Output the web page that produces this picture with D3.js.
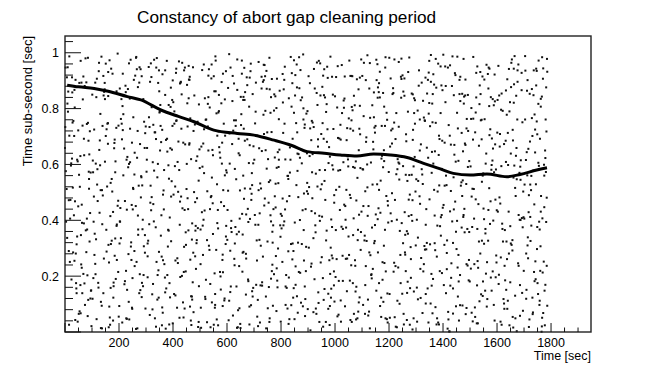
<!DOCTYPE html>
<html>
<head>
<meta charset="utf-8">
<script src="https://cdn.jsdelivr.net/npm/d3@7"></script>
<style>
  body { margin: 0; background: #fff; }
  svg { display: block; font-family: "Liberation Sans", Arial, Helvetica, sans-serif; }
</style>
</head>
<body>
<svg id="chart" width="659" height="370"></svg>
<script>
// scatter of sub-second time vs time, ROOT-like look

const title = "Constancy of abort gap cleaning period";
const xTitle = "Time [sec]";
const yTitle = "Time sub-second [sec]";

const xTicks = [200, 400, 600, 800, 1000, 1200, 1400, 1600, 1800];
const yTicks = [0.2, 0.4, 0.6, 0.8, 1];

// dense band of points
const trendTime  = [8, 50, 108, 160, 231, 281, 355, 420, 478, 551, 638, 700, 774, 840, 897, 960, 1020, 1081, 1143, 1205, 1267, 1328, 1390, 1438, 1500, 1562, 1636, 1685, 1747, 1785];
const trendValue = [0.884, 0.878, 0.872, 0.862, 0.843, 0.831, 0.795, 0.772, 0.753, 0.723, 0.711, 0.705, 0.687, 0.668, 0.646, 0.640, 0.634, 0.630, 0.637, 0.634, 0.625, 0.604, 0.584, 0.568, 0.562, 0.566, 0.556, 0.564, 0.580, 0.588];

// background points, one string per 100 s band: token "SSVVV" = seconds into band, value in 1/1000
const scatterBands = [
  "07912 33418 58067 81745 14290 66833 42156 95571 23604 70389 02947 49722 86115 37468 61893 18251 90636 54074 29517 76980 45342 11789 83203 62456 98021 35867 04395 57630 72174 26912 89548 40281 16703 64139 93426 51065 28750 79894 08337 47611 85982 20473 68208 31756 97149 55520 12861 74097 43314 87685 39903 03576 60242 24188 92719 49450 15026 71633 82367 36804 58971 06512 96148 30285 65739 19406 84057 53892 26621 77364 41175 10948 89513 34702 62230 00659 73881 47037 91324 22596 57168 85749 14472 68915 38043 79286 45617 01734 63391 27858 94120 52563 16987 81406 35255 70692 09818 43139 88574 59347",
  "44263 18907 73548 02119 59674 86335 31781 67026 95452 12893 48610 80177 25934 63249 37508 91862 06395 54726 78041 20583 69158 42917 97470 15332 84689 33014 60845 09276 75503 51961 28427 88190 39738 66052 03614 92385 47869 13207 71943 56521 23176 82658 36094 98739 61312 07485 45860 79123 30597 17046 90731 54288 26964 68415 01850 86572 42139 14603 73327 35986 59748 97215 21469 64091 48834 10352 83677 32508 76925 05193 57746 91380 27652 62017 40489 84273 16841 69534 33108 95997 53366 08725 78430 24159 47892 87611 12244 65973 38386 99055 51702 19528 80164 43847 70315 29686 60931 04572 92258 37013",
  "62451 09834 85176 37602 14925 71348 48087 93753 26219 57564 03396 80941 41728 68013 19657 96284 33870 75139 52516 07763 88402 29047 64985 45321 11690 83554 36108 70877 58236 22469 97712 49083 04395 76948 31627 65251 89164 16780 53512 40836 92307 27049 78673 60918 05444 84125 34590 71367 13809 99736 46258 20171 67624 55903 81482 38045 02317 95659 24882 73524 50193 10746 87368 43975 63011 29438 77207 16561 90834 35279 58642 01093 84916 47455 69720 22182 96347 41608 75893 12034 53769 86525 30151 63982 07336 48678 91204 25859 70417 37962 57290 14723 82558 44306 66941 98084 28617 79150 03872 51439",
  "25608 71142 48937 93485 06271 60724 37019 84363 15896 52650 79204 30578 97831 42116 63492 11769 86027 55345 20913 74688 39251 02574 91806 66439 47123 18962 83597 58270 34715 99031 12386 71849 44602 27458 87175 61923 06317 50786 95540 33049 78692 21805 63257 40981 89124 16463 54738 29396 73012 04659 92875 46221 67580 38947 81306 13734 57418 24081 96653 70195 49862 08327 85549 32715 60088 19436 77971 43204 90658 53813 26172 65507 10949 82366 37691 59024 98738 21483 75156 45892 03617 68243 30975 88410 14061 51789 93325 42554 71937 06196 56680 27742 84813 36375 62069 17524 99901 48287 79646 23135",
  "53819 16264 78501 41937 92372 05746 67128 30485 86613 24051 59904 71389 12756 47217 95542 38678 63091 01823 82465 27197 54736 74948 19502 88329 43084 60671 09256 96815 35443 70127 22969 51602 84380 13758 66041 40215 99587 28893 57364 76720 04136 89479 32851 61903 18247 45672 93018 07594 70331 52885 26467 81743 37106 64259 11928 98654 48312 23580 76071 58837 02492 85226 34964 67619 41305 15087 91753 56440 29896 73178 08521 62914 47357 95036 20682 79847 33201 54479 12943 87318 64765 39052 90629 25384 71116 05790 58953 43437 82271 17609 96164 31728 68025 50512 26890 83363 44947 75284 09131 61676",
  "38172 81603 14958 67024 42487 95315 23761 70849 56136 09592 84277 31918 62045 48633 97380 15726 76199 27504 53862 89451 04015 69718 35294 92561 18837 44106 73643 58972 07429 83258 29817 64390 12675 51026 96934 40483 77152 21760 86508 60294 33941 02367 79819 46652 90113 17435 55087 68786 26329 99571 42908 74215 05664 31841 84093 63529 11276 57987 37440 93703 20118 71662 48351 85925 03087 66437 29736 54210 80895 15569 96342 39017 61783 47461 08938 75624 22187 88746 33309 58862 13402 91120 44553 70791 26035 82678 51916 02243 67371 36804 97579 19126 78465 43958 64703 10381 85214 31650 56097 92833",
  "71263 26890 48507 93146 15372 60831 37015 84669 02437 55925 79182 33758 97604 12291 64946 41078 86513 20827 58349 75690 08112 90473 45236 67859 29584 83027 52741 16398 98665 35163 73912 04506 61287 43640 87934 22059 56423 09711 78188 31376 95852 49029 66514 13947 81605 27262 53780 70134 38867 91495 06042 62728 44359 84911 19673 57216 75884 34547 01330 88961 46085 63477 23721 97158 10603 51842 79394 40017 66685 28239 93526 55972 14163 82807 36350 71421 04874 47633 89096 60560 21917 58284 32738 77441 08995 95127 43692 17358 65831 50014 85405 26758 70280 38976 92569 12143 61842 47406 83091 29317",
  "46935 81272 17508 63841 30166 92617 58049 05384 74793 21425 87160 39956 66218 12703 55537 98341 28872 70094 43651 84228 03419 61785 36902 90533 24167 77486 49715 15021 68359 95864 33270 52619 80446 07893 44127 71382 19658 85907 57036 26514 63191 92762 38453 10328 79844 47585 01617 66906 22034 89299 54463 35778 75851 14115 60543 97382 41916 83075 29648 68241 06789 50324 91591 17967 72440 45013 37709 86184 23532 58869 99037 63396 11256 77625 40478 83802 55161 28914 69320 04747 94653 33896 51085 16384 80531 42792 74207 08169 61418 36957 88644 25309 57982 12055 65716 99423 30178 84588 47871 20330",
  "19204 65637 42891 88163 06478 53920 77315 31046 94782 24559 59128 83801 12396 70624 47157 36985 91440 08713 62069 29837 85256 51392 16618 74105 40927 97534 27289 68873 03416 56748 81092 33661 93305 14950 61577 45123 78840 22468 87731 38096 09382 66215 52847 96504 17163 72938 43692 28029 84365 59876 05251 77604 31487 90118 48973 13746 63320 26559 82994 54235 35617 99082 70401 10869 46290 88743 21158 57526 67984 02371 39807 75653 15439 92218 50046 83761 29195 64483 07822 43317 96640 58958 24084 71212 33571 80436 12903 48785 89057 61639 37315 06924 54169 98791 27548 73830 42260 17097 85496 60715",
  "84302 29567 56918 13245 70681 42036 97490 35813 61154 08729 89376 22942 47511 75083 51268 17637 92850 39104 64473 02916 80025 54748 27382 96167 43580 69816 11234 86403 33965 58692 75137 04519 91264 46847 20071 67328 83986 14756 52413 37690 98109 61541 25872 79257 06630 44398 89914 31065 72726 16479 55193 93582 28357 63840 09006 81628 40971 58115 21734 97463 47249 73910 12687 66036 35521 86155 53878 03302 78662 24189 90597 42416 60941 17750 82208 51529 29084 69363 07891 94727 38142 76605 45962 13433 88274 56019 32856 63580 00495 85123 49709 20336 71950 37664 96217 59848 15572 81093 26425 67788",
  "31608 76145 53972 18437 92810 45263 67591 09056 84329 26784 61917 39402 88651 14183 57728 03365 70846 42509 95294 22037 79471 48618 10952 66175 35836 89420 57043 21689 74257 04913 93708 41374 62806 16520 83049 29183 51765 98431 37092 67347 08804 77611 25956 60239 43687 91124 12578 85366 33803 55491 70065 20742 96358 47629 02197 64916 38451 86073 19580 73812 52276 09634 81905 44146 29369 94587 67721 13062 58480 36915 75237 00844 88106 49593 24377 61758 92911 40262 78045 16693 55184 83552 32829 69407 06261 97976 45730 21113 73588 50342 87869 11695 62036 34456 90728 28273 57917 79162 04509 65794",
  "68427 23059 91785 45318 07964 74631 36192 59876 12504 83247 50738 29013 95469 63891 17326 42654 79108 04582 86947 31275 58839 21416 67093 93760 39528 76187 10345 54902 81651 26073 48714 97392 62859 14236 33607 87984 05451 71123 44769 59285 20518 92046 66932 37374 82807 15681 53148 78590 01917 40226 96453 27872 63509 11065 85738 48383 72621 34204 57959 90487 22116 69542 06773 81309 44858 16697 95034 51421 29963 76250 38812 63175 02583 87049 47326 20991 58404 73738 12168 99573 35207 66840 24451 82612 53975 09328 71054 41681 88217 30767 61443 14902 94138 56529 27285 78856 04097 46732 85366 19600",
  "15873 62218 38546 87009 24691 70352 49137 93784 06425 57908 81261 32619 66043 11497 96830 43175 75562 20976 52318 89724 03051 64683 29402 78157 45839 17216 91593 36967 60348 08722 83419 54065 27784 71931 42276 98503 13852 67140 35607 86398 50919 22473 77026 04664 59285 93837 31112 68541 46979 80304 19750 55027 88688 24236 73415 01982 62563 39101 96746 47390 84854 11675 58429 29017 75983 40362 63708 92145 16856 52594 34231 87472 06908 70789 21053 48627 99310 57846 27565 81194 13728 66361 44914 91049 38603 60277 02136 77492 53861 25019 84563 36735 69180 10397 95627 46906 73474 19248 88851 31583",
  "57208 84634 21893 69417 03159 47782 92345 35911 13486 76027 58570 29768 96211 41854 64603 07338 82961 50475 17122 73749 38296 94883 25530 61067 45624 88218 11937 79381 32758 54102 99445 06793 67886 40319 23564 85027 14650 71293 49971 36136 60818 96584 03402 78049 52737 19265 87691 43156 64923 31308 75875 08541 91784 27217 55992 40660 82034 15459 69318 98866 36102 59645 21583 77270 47929 04037 92411 33756 63190 86525 10882 52314 70647 24068 44903 89379 16226 61751 38440 97685 07117 55896 80503 29243 73978 46034 14761 95419 62852 33295 58166 85703 01547 49820 72089 18672 91951 36384 67509 26828",
  "42635 19072 76419 53986 87243 11560 64827 30194 97358 25703 59041 81675 05312 46920 71487 37156 92849 14283 68536 83904 29671 55127 02455 77818 48092 90369 21741 63204 35987 86530 09823 57276 74647 17012 40439 99181 26955 69713 52398 84064 13526 61852 37319 95185 06678 79441 44927 23002 88763 57613 31246 72095 10881 66524 48359 93720 27166 82847 01993 54231 39554 76978 15328 63096 97612 45467 20045 87729 58181 34396 71853 06524 91238 42670 64914 24002 80357 52785 11139 73543 33881 96258 47610 18947 69374 87086 29505 55729 03168 75412 40848 92591 61903 14225 37066 83670 50297 26432 78843 08951",
  "66924 31458 88097 04763 52316 79581 23840 47129 93672 15406 61957 38281 84834 09513 56148 72705 27369 91922 43690 19054 68437 35816 97274 02593 80148 54762 29031 74387 11689 63250 46915 89572 33324 58603 06069 77841 21475 95196 40758 67327 12985 83614 50442 26167 71809 44538 98249 36883 62091 08376 85657 19715 53904 30230 76468 48181 92826 14512 69947 25031 57369 81693 03227 39852 64118 94474 21786 47560 86399 10038 72943 33667 59209 88812 06485 41135 75726 27951 96582 52404 16243 68872 35110 80598 44327 12764 91041 60639 23928 77195 49568 05802 84217 38931 57353 18088 71515 43760 99436 28254",
  "24118 71846 49379 86592 13037 58724 37261 92408 05953 67130 32685 80419 17854 54312 96076 41598 62943 28237 75761 09482 88615 46024 20369 63887 34151 97503 11709 53964 78246 02831 69487 40112 85058 26673 57329 91928 15796 73547 44281 60016 33865 87401 06172 51639 79958 22324 94751 38083 64596 12460 48823 76937 30185 83570 57292 01714 68049 19388 91866 43431 26102 72659 55976 35324 99219 08847 61553 46790 84402 17026 70631 29365 52877 93140 40713 65988 14267 87545 33609 58054 03431 76896 21792 49178 80237 38905 67516 10664 95375 44942 27083 62821 85168 51317 16594 73003 36778 98411 07205 59686",
  "58367 13902 76148 41725 27559 69213 05936 84481 32064 62807 18490 50175 79623 36937 08281 47754 71068 23412 82876 55595 14339 65001 39182 78650 02528 45943 61307 29766 86094 17429 53817 73252 34578 08119 67984 41643 24326 80761 57097 11864 62431 37215 75560 04988 49376 83718 20045 59692 31123 70907 15264 44529 66843 27381 85978 53606 09151 38457 77024 22682 60219 47935 13310 81573 35848 68407 04761 52136 74599 29870 42253 18018 63487 86932 31702 56395 10644 79169 45883 23528 67051 01406 84237 39779 58112 16656 71944 48297 26508 62835 33070 82394 07616 54972 43189 75447 21853 66020 12561 49708"
];

const svg = d3.select("#chart");
const margin = { left: 65, right: 68, top: 36, bottom: 38 };
const W = 659, H = 370;

const x = d3.scaleLinear().domain([0, 1948]).range([margin.left, W - margin.right]);
const y = d3.scaleLinear().domain([0, 1.06]).range([H - margin.bottom, margin.top]);

// unpack the band strings
const points = [];
scatterBands.forEach((s, i) => {
  s.split(" ").forEach(tok => {
    points.push({ t: i * 100 + +tok.slice(0, 2), v: +tok.slice(2) / 1000 });
  });
});

// Точки фона
svg.append("g")
  .selectAll("rect")
  .data(points)
  .enter().append("rect")
  .attr("x", d => x(d.t) - 1)
  .attr("y", d => y(d.v) - 1)
  .attr("width", 2)
  .attr("height", 2)
  .attr("fill", "#111");

// Плотная полоса
const trend = trendTime.map((t, i) => ({ t, v: trendValue[i] }));
svg.append("path")
  .datum(trend)
  .attr("fill", "none")
  .attr("stroke", "#000")
  .attr("stroke-width", 3)
  .attr("stroke-linejoin", "round")
  .attr("d", d3.line().x(d => x(d.t)).y(d => y(d.v)).curve(d3.curveMonotoneX));

// frame
svg.append("rect")
  .attr("x", x.range()[0])
  .attr("y", y.range()[1])
  .attr("width", x.range()[1] - x.range()[0])
  .attr("height", y.range()[0] - y.range()[1])
  .attr("fill", "none")
  .attr("stroke", "#222")
  .attr("stroke-width", 1.4);

// ticks pointing into the frame
const xMinor = d3.range(0, 1948, 50);
svg.append("g")
  .selectAll("line")
  .data(xMinor)
  .enter().append("line")
  .attr("x1", d => x(d)).attr("x2", d => x(d))
  .attr("y1", y(0))
  .attr("y2", d => y(0) - (d % 200 === 0 ? 9 : 4.5))
  .attr("stroke", "#111");

const yMinor = d3.range(0, 1.06, 0.04);
svg.append("g")
  .selectAll("line")
  .data(yMinor)
  .enter().append("line")
  .attr("y1", d => y(d)).attr("y2", d => y(d))
  .attr("x1", x(0))
  .attr("x2", (d, i) => x(0) + (i % 5 === 0 ? 16 : 8))
  .attr("stroke", "#111");

// tick labels
svg.append("g")
  .selectAll("text")
  .data(xTicks)
  .enter().append("text")
  .attr("x", d => x(d))
  .attr("y", 347)
  .attr("text-anchor", "middle")
  .style("font-size", "12.5px")
  .text(d => d);

svg.append("g")
  .selectAll("text")
  .data(yTicks)
  .enter().append("text")
  .attr("x", 59)
  .attr("y", d => y(d) + 4.5)
  .attr("text-anchor", "end")
  .style("font-size", "12.5px")
  .text(d => d);

// titles
svg.append("text")
  .attr("x", 137).attr("y", 23)
  .style("font-size", "17.2px")
  .text(title);

svg.append("text")
  .attr("x", x.range()[1]).attr("y", 360)
  .attr("text-anchor", "end")
  .style("font-size", "12.5px")
  .text(xTitle);

svg.append("text")
  .attr("transform", `translate(32,${y.range()[1]}) rotate(-90)`)
  .attr("text-anchor", "end")
  .style("font-size", "13px")
  .text(yTitle);
</script>
</body>
</html>
